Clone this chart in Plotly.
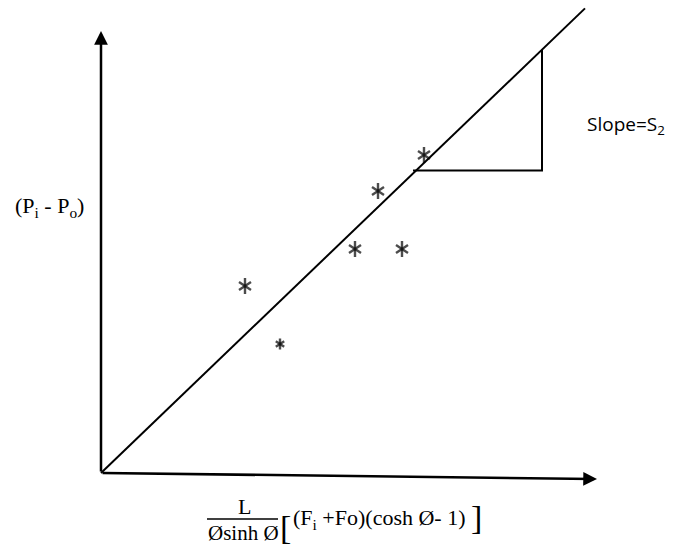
import plotly.graph_objects as go

# Observed points (arbitrary schematic units, origin at the axes corner)
x_obs = [14.4, 17.9, 25.4, 27.7, 30.1, 32.3]
y_obs = [18.7, 12.9, 22.4, 28.2, 22.4, 31.8]
marker_sizes = [10, 7, 10, 10, 10, 10]

# Fitted straight line through the origin with slope S2
slope_s2 = 0.96
fit_x = [0.0, 48.4]
fit_y = [slope_s2 * v for v in fit_x]

# Slope triangle (run along the bottom, rise up to the fitted line)
tri_x = [31.2, 44.1, 44.1]
tri_y = [30.25, 30.25, slope_s2 * 44.1]

# Axis arrows: (tail, tip)
y_axis_tip = (0.0, 44.2)
x_axis_tip = (49.6, -0.6)

W, H = 674, 545
X_RANGE = [-10.1, 57.3]
Y_RANGE = [-7.2, 47.3]

SERIF = "Liberation Serif, Times New Roman, serif"
SANS = "Open Sans, Liberation Sans, sans-serif"

fig = go.Figure()

fig.add_trace(go.Scatter(x=fit_x, y=fit_y, mode="lines",
                         line=dict(color="black", width=2), hoverinfo="skip"))
fig.add_trace(go.Scatter(x=tri_x, y=tri_y, mode="lines",
                         line=dict(color="black", width=2), hoverinfo="skip"))

# Six-spoked asterisks built from two overlapping "Y" symbols
for sym in ["y-up-open", "y-down-open"]:
    fig.add_trace(go.Scatter(
        x=x_obs, y=y_obs, mode="markers",
        marker=dict(symbol=sym, size=marker_sizes, color="black",
                    line=dict(color="black", width=2.4)),
        hoverinfo="skip"))

annotations = []
# axis arrows
for tip in [y_axis_tip, x_axis_tip]:
    annotations.append(dict(
        x=tip[0], y=tip[1], ax=0, ay=0, xref="x", yref="y",
        axref="x", ayref="y", text="", showarrow=True,
        arrowhead=2, arrowsize=1.1, arrowwidth=2.5, arrowcolor="black"))

def label(text, x, y, size=19, family=SERIF, xanchor="center"):
    annotations.append(dict(
        x=x, y=y, xref="x", yref="y", text=text, showarrow=False,
        xanchor=xanchor, yanchor="middle",
        font=dict(family=family, size=size, color="black")))

label("(P<sub>i</sub> - P<sub>o</sub>)", -5.2, 26.6, size=22)
label("Slope=S<sub>2</sub>", 48.4, 34.8, size=19, family=SANS, xanchor="left")
label("L", 14.3, -3.3, size=22)
label("Øsinh Ø", 14.2, -6.0, size=21)
label("[", 18.4, -5.4, size=34)
label("(F<sub>i</sub> +Fo)(cosh Ø- 1)", 19.0, -4.6, size=22, xanchor="left")
label("]", 37.5, -4.4, size=34)

fig.update_layout(
    width=W, height=H,
    margin=dict(l=0, r=0, t=0, b=0),
    paper_bgcolor="white", plot_bgcolor="white",
    showlegend=False,
    xaxis=dict(range=X_RANGE, visible=False, fixedrange=True),
    yaxis=dict(range=Y_RANGE, visible=False, fixedrange=True),
    annotations=annotations,
    shapes=[dict(type="line", xref="x", yref="y",
                 x0=10.6, x1=17.7, y0=-4.6, y1=-4.6,
                 line=dict(color="black", width=1.5))],
)

fig.write_html("out.html")
